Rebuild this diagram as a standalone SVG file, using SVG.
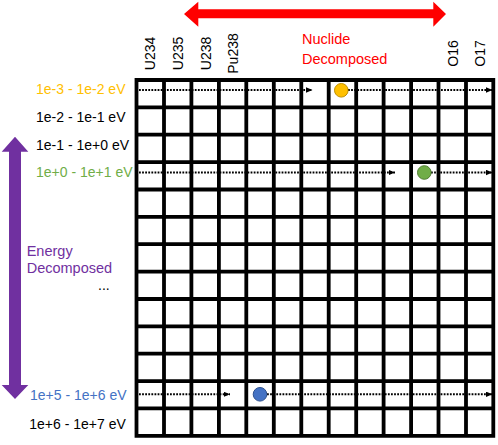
<svg xmlns="http://www.w3.org/2000/svg" width="498" height="445" viewBox="0 0 498 445">
<style>
text{font-family:"Liberation Sans",Arial,sans-serif;font-size:14px;fill:#000}
.or{fill:#FFC000}.gr{fill:#70AD47}.bl{fill:#4472C4}.rd{fill:#FF0000;font-size:14.5px}.pu{fill:#7030A0;font-size:14.5px}
.grid{fill:none;stroke:#000;stroke-width:3.8;stroke-linecap:square}
.dot{fill:none;stroke:#000;stroke-width:2;stroke-dasharray:1.8 1.3;marker-end:url(#ah)}
</style>
<defs>
<marker id="ah" markerUnits="userSpaceOnUse" markerWidth="7" markerHeight="6" refX="6.5" refY="2.7" orient="auto"><path d="M0,0 L6.5,2.7 L0,5.4 z" fill="#000"/></marker>
</defs>
<rect width="498" height="445" fill="#fff"/>
<g id="nuclide-arrow"><polygon points="184,14 198.3,1.7 198.3,9.3 433.3,9.3 433.3,1.7 446,14 433.3,26.7 433.3,18.3 198.3,18.3 198.3,26.7" fill="#FF0000"/></g>
<g id="energy-arrow"><polygon points="15,136.7 28.3,151.7 21,151.7 21,385 28.3,385 15,399 1.7,385 9,385 9,151.7 1.7,151.7" fill="#7030A0"/></g>
<g id="nuclide-label"><text class="rd" x="302" y="43.5">Nuclide</text><text class="rd" x="302" y="63.5">Decomposed</text></g>
<g id="energy-label"><text class="pu" x="26.7" y="256">Energy</text><text class="pu" x="26.7" y="272.7">Decomposed</text></g>
<g id="column-labels" text-anchor="middle">
<text transform="translate(155,53.5) rotate(-90)">U234</text>
<text transform="translate(183,53.5) rotate(-90)">U235</text>
<text transform="translate(210.5,53.5) rotate(-90)">U238</text>
<text transform="translate(238,53.5) rotate(-90)">Pu238</text>
<text transform="translate(458,53.5) rotate(-90)">O16</text>
<text transform="translate(485,53.5) rotate(-90)">O17</text>
</g>
<g id="row-labels">
<text class="or" x="36" y="94">1e-3 - 1e-2 eV</text>
<text x="36" y="122">1e-2 - 1e-1 eV</text>
<text x="36" y="149.5">1e-1 - 1e+0 eV</text>
<text class="gr" x="36" y="177.3">1e+0 - 1e+1 eV</text>
<text x="98" y="290">...</text>
<text class="bl" x="30" y="400">1e+5 - 1e+6 eV</text>
<text x="29.3" y="429">1e+6 - 1e+7 eV</text>
</g>
<g id="grid">
<path class="grid" d="M136.5,80V435.8M164,80V435.8M191.4,80V435.8M218.9,80V435.8M246.3,80V435.8M273.8,80V435.8M301.3,80V435.8M328.7,80V435.8M356.2,80V435.8M383.6,80V435.8M411.1,80V435.8M438.5,80V435.8M466,80V435.8M493.3,80V435.8
M136.5,80H493.3M136.5,107.4H493.3M136.5,134.7H493.3M136.5,162.1H493.3M136.5,189.5H493.3M136.5,216.9H493.3M136.5,244.2H493.3M136.5,271.6H493.3M136.5,299H493.3M136.5,326.3H493.3M136.5,353.7H493.3M136.5,381.1H493.3M136.5,408.4H493.3M136.5,435.8H493.3"/>
</g>
<g id="connectors">
<line class="dot" x1="139" y1="90" x2="312.5" y2="90"/>
<line class="dot" x1="348" y1="90" x2="492.5" y2="90"/>
<line class="dot" x1="139" y1="172.5" x2="395" y2="172.5"/>
<line class="dot" x1="431" y1="172.5" x2="492.5" y2="172.5"/>
<line class="dot" x1="139" y1="394.3" x2="230" y2="394.3"/>
<line class="dot" x1="267" y1="394.3" x2="492.5" y2="394.3"/>
</g>
<g id="point-orange"><circle cx="341.3" cy="90.3" r="6.8" fill="#FFC000" stroke="#BF9000" stroke-width="1"/></g>
<g id="point-green"><circle cx="424.3" cy="172.5" r="6.8" fill="#70AD47" stroke="#507E32" stroke-width="1"/></g>
<g id="point-blue"><circle cx="260" cy="394.3" r="6.8" fill="#4472C4" stroke="#2F528F" stroke-width="1"/></g>
</svg>
